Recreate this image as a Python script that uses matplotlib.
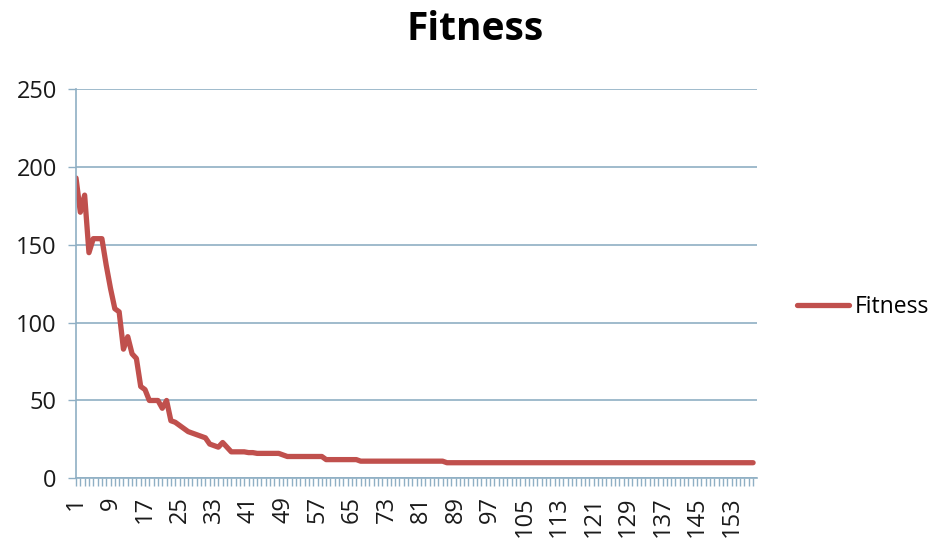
import numpy as np
import matplotlib
matplotlib.use("Agg")
import matplotlib.pyplot as plt

plt.rcParams['font.family'] = ['Open Sans', 'DejaVu Sans']

# fitness per generation
fitness = [
    193, 171, 182, 145, 154, 154, 154, 137, 122, 109,
    107, 83, 91, 80, 77, 59, 57, 50, 50, 50,
    45, 50, 37, 36, 34, 32, 30, 29, 28, 27,
    26, 22, 21, 20, 23, 20, 17, 17, 17, 17,
    16.5, 16.5, 16, 16, 16, 16, 16, 16, 15, 14,
    14, 14, 14, 14, 14, 14, 14, 14, 12, 12,
    12, 12, 12, 12, 12, 12, 11, 11, 11, 11,
    11, 11, 11, 11, 11, 11, 11, 11, 11, 11,
    11, 11, 11, 11, 11, 11, 10, 10, 10, 10,
    10, 10, 10, 10, 10, 10, 10, 10, 10, 10,
    10, 10, 10, 10, 10, 10, 10, 10, 10, 10,
    10, 10, 10, 10, 10, 10, 10, 10, 10, 10,
    10, 10, 10, 10, 10, 10, 10, 10, 10, 10,
    10, 10, 10, 10, 10, 10, 10, 10, 10, 10,
    10, 10, 10, 10, 10, 10, 10, 10, 10, 10,
    10, 10, 10, 10, 10, 10, 10, 10,
]
generations = list(range(1, len(fitness) + 1))
y_ticks = [0, 50, 100, 150, 200, 250]

line_col = '#C0504D'
axis_col = '#8FAFC4'

fig = plt.figure(figsize=(9.35, 5.4), dpi=100)
ax = fig.add_axes([0.0813, 0.1143, 0.7283, 0.7203])

ax.plot(generations, fitness, color=line_col, lw=3.8,
        solid_joinstyle='round', solid_capstyle='round', label='Fitness')

ax.set_ylim(0, 250)
ax.set_xlim(1, 158.9)
ax.set_yticks(y_ticks)
ax.set_yticklabels([str(v) for v in y_ticks])
ax.set_xticks(generations)
ax.set_xticklabels([str(g) if (g - 1) % 8 == 0 else '' for g in generations],
                   rotation=90)

ax.grid(axis='y', color=axis_col, lw=1.2)
ax.set_axisbelow(True)
for s in ['top', 'right']:
    ax.spines[s].set_visible(False)
for s in ['left', 'bottom']:
    ax.spines[s].set_color(axis_col)
    ax.spines[s].set_linewidth(1.2)

ax.tick_params(axis='both', colors=axis_col, length=5.8, width=1.0,
               labelcolor='#1a1a1a', labelsize=17, direction='out')
ax.tick_params(axis='y', pad=8)
ax.tick_params(axis='x', pad=7)

fig.text(0.508, 0.945, 'Fitness', ha='center', va='center',
         fontsize=28, fontweight='bold')

ax.legend(loc='center left', bbox_to_anchor=(0.852, 0.4315),
          bbox_transform=fig.transFigure, frameon=False, fontsize=16.5,
          handlelength=2.3, handletextpad=0.25, borderpad=0, borderaxespad=0)

fig.savefig('out.png', dpi=100, facecolor='white')
